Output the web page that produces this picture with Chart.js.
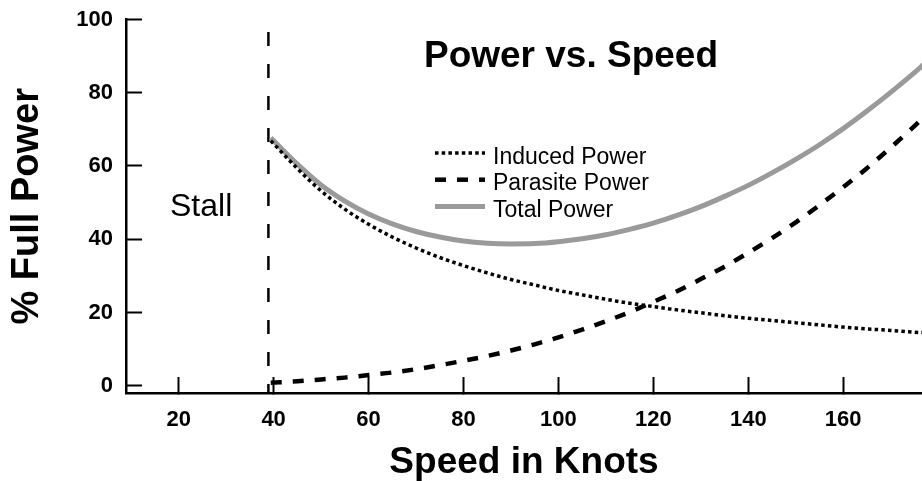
<!DOCTYPE html>
<html>
<head>
<meta charset="utf-8">
<title>Power vs. Speed</title>
<script src="https://cdn.jsdelivr.net/npm/chart.js@4.4.1/dist/chart.umd.min.js"></script>
<style>
  html, body { margin: 0; padding: 0; background: #fff; }
  #wrap { position: relative; width: 922px; height: 481px; }
</style>
</head>
<body>
<div id="wrap"><canvas id="powerChart"></canvas></div>
<script>
// values (knots / % of full power)
const speeds = [39.4, 45, 50, 55, 60, 65, 70, 75, 80, 85, 90, 95, 100, 105, 110, 115,
    120, 125, 130, 135, 140, 145, 150, 155, 160, 165, 170, 175, 177];
const inducedPower = [66.9, 59.3, 53.2, 48.2, 44.1, 40.6, 37.6, 35.0, 32.8, 30.8, 29.0, 27.5, 26.0, 24.8, 23.6, 22.5,
    21.6, 20.7, 19.9, 19.1, 18.4, 17.8, 17.2, 16.6, 16.0, 15.5, 15.1, 14.6, 14.5];
const parasitePower = [0.8, 1.2, 1.7, 2.2, 2.9, 3.6, 4.5, 5.6, 6.8, 8.1, 9.6, 11.3, 13.2, 15.3, 17.6, 20.1,
    22.9, 25.8, 29.1, 32.5, 36.3, 40.3, 44.6, 49.3, 54.2, 59.4, 65.0, 70.9, 73.3];
const totalPower = [67.7, 60.5, 54.8, 50.4, 46.9, 44.2, 42.1, 40.6, 39.5, 38.9, 38.7, 38.8, 39.3, 40.1, 41.2, 42.7,
    44.4, 46.5, 48.9, 51.7, 54.7, 58.1, 61.8, 65.8, 70.2, 75.0, 80.1, 85.5, 87.8];
const stallSpeed = 38.9;
const stallSpan = [96.6, -2];
const seriesNames = ['Induced Power', 'Parasite Power', 'Total Power'];
const xTicks = [20, 40, 60, 80, 100, 120, 140, 160];
const yTicks = [0, 20, 40, 60, 80, 100];

const FONT = '"Liberation Sans", Arial, Helvetica, sans-serif';

const toPoints = vals => speeds.map((s, i) => ({ x: s, y: vals[i] }));

// title, "Stall" note and the legend box sit inside the plot
const annotations = {
    id: 'annotations',
    afterDatasetsDraw(chart) {
        const ctx = chart.ctx;
        ctx.save();
        ctx.fillStyle = '#000';
        ctx.textBaseline = 'alphabetic';

        ctx.font = 'bold 37px ' + FONT;
        ctx.textAlign = 'center';
        ctx.fillText('Power vs. Speed', 571, 67);

        ctx.font = '32px ' + FONT;
        ctx.textAlign = 'left';
        ctx.fillText('Stall', 170, 216);

        ctx.font = '23px ' + FONT;
        chart.data.datasets.forEach((ds, i) => {
            if (!ds.label) return;
            const y = 153 + i * 26.7;
            ctx.beginPath();
            ctx.strokeStyle = ds.borderColor;
            ctx.lineWidth = ds.borderWidth;
            ctx.setLineDash(ds.borderDash || []);
            ctx.moveTo(435, y);
            ctx.lineTo(485, y);
            ctx.stroke();
            ctx.fillText(ds.label, 493, y + 10.6);
        });
        ctx.restore();
    }
};

// keep tick label padding from pushing the plot area in
const noEdgePadding = s => {
    s.paddingTop = 0;
    s.paddingBottom = 0;
    s.paddingLeft = 0;
    s.paddingRight = 0;
};

const ctx = document.getElementById('powerChart').getContext('2d');
new Chart(ctx, {
    type: 'line',
    data: {
        datasets: [
            {
                label: seriesNames[0],
                data: toPoints(inducedPower),
                borderColor: '#000',
                borderWidth: 3.5,
                borderDash: [3.5, 3.2],
                cubicInterpolationMode: 'monotone'
            },
            {
                label: seriesNames[1],
                data: toPoints(parasitePower),
                borderColor: '#000',
                borderWidth: 4.5,
                borderDash: [11, 11],
                cubicInterpolationMode: 'monotone'
            },
            {
                label: seriesNames[2],
                data: toPoints(totalPower),
                borderColor: '#9a9a9a',
                borderWidth: 5,
                cubicInterpolationMode: 'monotone'
            },
            {
                label: '',
                data: stallSpan.map(v => ({ x: stallSpeed, y: v })),
                borderColor: '#000',
                borderWidth: 2.5,
                borderDash: [14, 18]
            }
        ]
    },
    options: {
        responsive: true,
        maintainAspectRatio: false,
        animation: false,
        devicePixelRatio: 1,
        layout: { padding: { top: 19.5, left: 0, right: 0, bottom: 0 } },
        elements: { point: { radius: 0 } },
        plugins: { legend: { display: false }, tooltip: { enabled: false } },
        scales: {
            x: {
                type: 'linear',
                min: 8.9,
                max: 176.6,
                afterBuildTicks: s => { s.ticks = xTicks.map(v => ({ value: v })); },
                afterFit: s => { s.height = 88; noEdgePadding(s); },
                grid: { drawOnChartArea: false, tickLength: -16, tickWidth: 2, tickColor: '#000' },
                border: { color: '#000', width: 2.5 },
                ticks: { color: '#000', padding: 30, maxRotation: 0, autoSkip: false,
                    font: { family: FONT, size: 22, weight: 'bold' } },
                title: { display: true, text: 'Speed in Knots', color: '#000', padding: 0,
                    font: { family: FONT, size: 37, weight: 'bold', lineHeight: 1 } }
            },
            y: {
                min: -2,
                max: 100,
                afterBuildTicks: s => { s.ticks = yTicks.map(v => ({ value: v })); },
                afterFit: s => { s.width = 126; noEdgePadding(s); },
                grid: { drawOnChartArea: false, tickLength: -16, tickWidth: 2, tickColor: '#000' },
                border: { color: '#000', width: 2.5 },
                ticks: { color: '#000', padding: 29,
                    font: { family: FONT, size: 22, weight: 'bold' } },
                title: { display: true, text: '% Full Power', color: '#000', padding: { top: 9 },
                    font: { family: FONT, size: 38, weight: 'bold', lineHeight: 1 } }
            }
        }
    },
    plugins: [annotations]
});
</script>
</body>
</html>
